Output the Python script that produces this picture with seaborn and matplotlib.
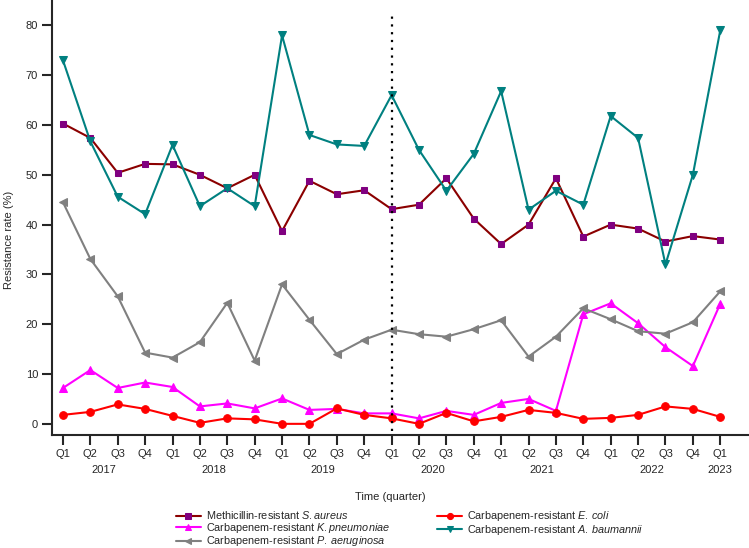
import numpy as np
import pandas as pd
import matplotlib
matplotlib.use("Agg")
import matplotlib.pyplot as plt
import seaborn as sns

# ── Data ───────────────────────────────────────────────
quarters = ["Q1", "Q2", "Q3", "Q4"] * 6 + ["Q1"]
years = ["2017", "2018", "2019", "2020", "2021", "2022", "2023"]

mrsa = [60.3, 57.4, 50.4, 52.2, 52.1, 50.0, 47.3, 50.0, 38.7, 48.8, 46.1, 46.9,
        43.1, 44.0, 49.3, 41.2, 36.1, 40.0, 49.3, 37.6, 40.0, 39.2, 36.6, 37.7, 37.0]
k_pneu = [7.2, 10.8, 7.2, 8.3, 7.4, 3.5, 4.1, 3.1, 5.1, 2.8, 3.0, 2.1,
          2.1, 1.1, 2.6, 1.8, 4.2, 5.0, 2.6, 22.0, 24.2, 20.2, 15.4, 11.6, 24.1]
p_aeru = [44.5, 33.1, 25.6, 14.3, 13.3, 16.4, 24.3, 12.7, 28.0, 20.9, 14.0, 16.9,
          18.9, 18.0, 17.5, 19.0, 20.8, 13.5, 17.5, 23.2, 21.0, 18.6, 18.1, 20.4, 26.6]
e_coli = [1.8, 2.4, 3.9, 3.0, 1.6, 0.2, 1.1, 0.9, 0.0, 0.0, 3.1, 1.8,
          1.1, 0.0, 2.2, 0.5, 1.4, 2.8, 2.2, 1.0, 1.2, 1.8, 3.5, 3.0, 1.4]
a_baum = [73.0, 56.7, 45.6, 42.1, 56.0, 43.7, 47.3, 43.7, 78.0, 58.0, 56.1, 55.8,
          66.0, 55.0, 46.8, 54.2, 66.8, 43.0, 46.8, 44.0, 61.8, 57.4, 32.0, 50.0, 79.0]

# ── Style ──────────────────────────────────────────────
sns.set_style("ticks")
plt.rcParams.update({
    "font.family": ["Liberation Sans", "DejaVu Sans"],
    "font.size": 8,
    "mathtext.fontset": "custom",
    "mathtext.rm": "Liberation Sans",
    "mathtext.it": "Liberation Sans:italic",
    "axes.linewidth": 1.5,
})

series = [
    (r"Methicillin-resistant $\mathit{S.aureus}$", mrsa, "#8B0000", "#800080", "s", 4.8),
    (r"Carbapenem-resistant $\mathit{K.pneumoniae}$", k_pneu, "#FF00FF", "#FF00FF", "^", 5.5),
    (r"Carbapenem-resistant $\mathit{P.\,aeruginosa}$", p_aeru, "#808080", "#808080", "<", 5.5),
    (r"Carbapenem-resistant $\mathit{E.\,coli}$", e_coli, "#FF0000", "#FF0000", "o", 5.5),
    (r"Carbapenem-resistant $\mathit{A.\,baumannii}$", a_baum, "#008080", "#008080", "v", 5.5),
]

fig = plt.figure(figsize=(7.49, 5.48), dpi=100)
ax = fig.add_axes([52 / 749, 1 - 435.3 / 548, 1 - 52 / 749, 435.3 / 548])

x = np.arange(len(quarters))
for label, vals, lc, mc, mk, ms in series:
    df = pd.DataFrame({"x": x, "y": vals})
    sns.lineplot(data=df, x="x", y="y", ax=ax, color=lc, linewidth=1.5,
                 marker=mk, markersize=ms, markerfacecolor=mc,
                 markeredgecolor=mc, label=label)

ax.vlines(12, -1.5, 82.5, colors="black", linestyles=(0, (1, 2.5)), linewidth=1.6)

ax.set_xlim(-0.4, 25.05)
ax.set_ylim(-2.3, 85.1)
ax.set_yticks([0, 10, 20, 30, 40, 50, 60, 70, 80])
ax.set_xticks(x)
ax.set_xticklabels(quarters)
ax.tick_params(axis="both", length=7, width=1.5, labelsize=8, pad=3)
sns.despine(ax=ax)

# year labels centred under their quarters
for i, yr in enumerate(years):
    xpos = 4 * i + 1.5 if yr != "2023" else 24
    ax.annotate(yr, xy=(xpos, 0), xycoords=("data", "axes fraction"),
                xytext=(0, -25), textcoords="offset points",
                ha="center", va="center", fontsize=8)

ax.set_xlabel("")
ax.set_ylabel("Resistance rate (%)", fontsize=8)
ax.yaxis.set_label_coords(-0.054, 0.45)
fig.text(390 / 749, 1 - 497 / 548, "Time (quarter)", ha="center", va="center", fontsize=8)

ax.get_legend().remove()
handles, labels = ax.get_legend_handles_labels()
fig.legend(handles, labels, loc="upper center", bbox_to_anchor=(410 / 749, 1 - 504 / 548),
           ncol=2, frameon=False, fontsize=7.8, handlelength=2.3,
           columnspacing=4.3, labelspacing=-0.05, markerscale=0.8,
           handletextpad=0.5, borderpad=0)

fig.savefig("out.png", dpi=100)
